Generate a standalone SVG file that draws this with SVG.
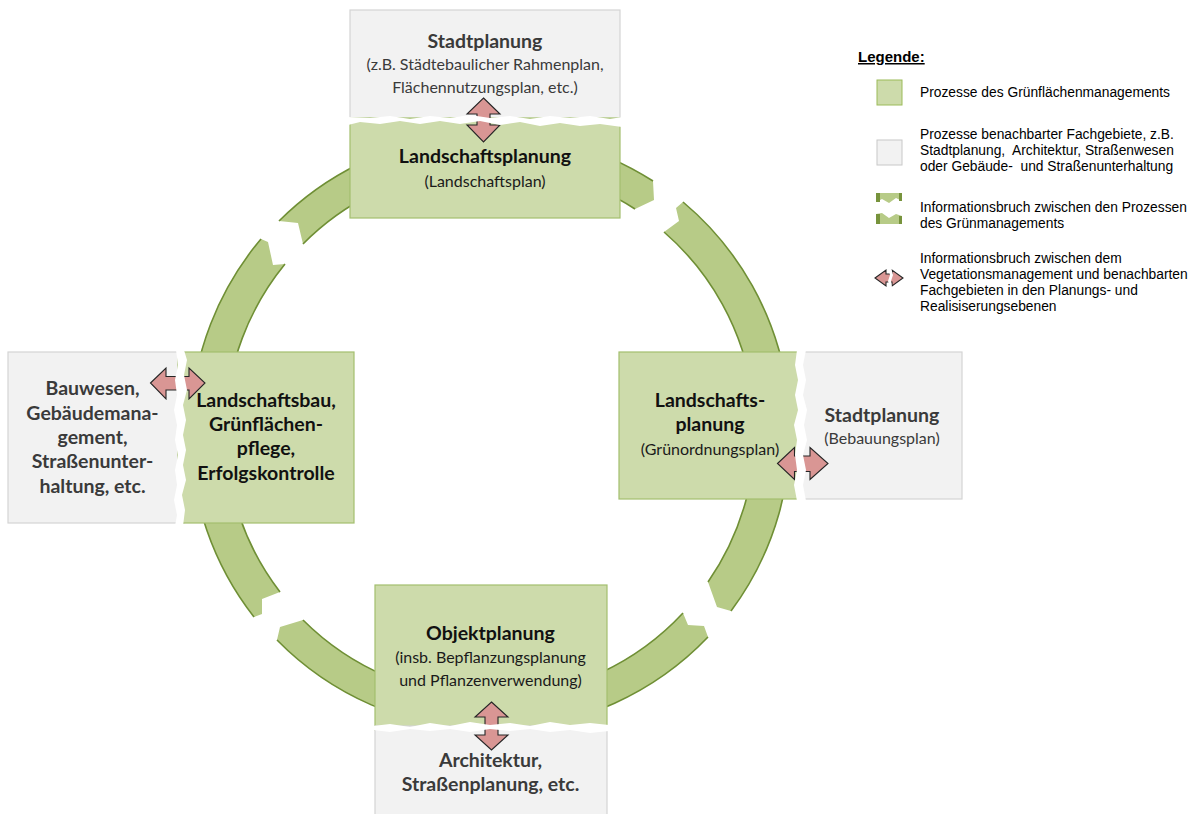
<svg xmlns="http://www.w3.org/2000/svg" width="1193" height="814" viewBox="0 0 1193 814">
<defs>
<style>
.ring{fill:#b7cb87;stroke:none}
.ringedge{fill:none;stroke:#6f8f35;stroke-width:1.6}
.gbox{fill:#cddbab;stroke:#a3bf6e;stroke-width:1.2}
.pbox{fill:#f2f2f2;stroke:#d4d4d4;stroke-width:1.2}
.arrow{fill:#d99694;stroke:#262626;stroke-width:1.1;stroke-linejoin:miter}
.tear{fill:#ffffff;stroke:none}
.hb{font-family:Lato,"Open Sans",sans-serif;font-weight:bold;font-size:19.5px;text-anchor:middle;fill:#111111}
.hg{font-family:Lato,"Open Sans",sans-serif;font-weight:bold;font-size:19.5px;text-anchor:middle;fill:#3a3a3a}
.sb{font-family:Lato,"Open Sans",sans-serif;font-size:16px;text-anchor:middle;fill:#1a1a1a}
.sg{font-family:Lato,"Open Sans",sans-serif;font-size:16px;text-anchor:middle;fill:#3a3a3a}
.lg{font-family:"Liberation Sans",Arial,sans-serif;font-size:13.8px;fill:#000000}
.lgh{font-family:"Liberation Sans",Arial,sans-serif;font-size:15px;font-weight:bold;fill:#000000;text-decoration:underline}
</style>
</defs>
<rect x="0" y="0" width="1193" height="814" fill="#ffffff"/>

<g id="cycle">
<path class="ring" d="M279,221 A300,300 0 0 1 653,181 L654,200 L635,209 A264,264 0 0 0 303,244 L298,223 Z"/>
<path class="ring" d="M683,202 A300,300 0 0 1 731,611 L717,607 L708,582 A264,264 0 0 0 664,232 L679,221 L676,208 Z"/>
<path class="ring" d="M708,637 A300,300 0 0 1 277,640 L280,627 L303,620 A264,264 0 0 0 683,613 L688,625 L704,626 Z"/>
<path class="ring" d="M254,617 A300,300 0 0 1 261,239 L268,242 L273,265 L285,264 A264,264 0 0 0 280,592 L262,599 L262,614 Z"/>
<path class="ringedge" d="M279,221 A300,300 0 0 1 653,181 M635,209 A264,264 0 0 0 303,244"/>
<path class="ringedge" d="M683,202 A300,300 0 0 1 731,611 M708,582 A264,264 0 0 0 664,232"/>
<path class="ringedge" d="M708,637 A300,300 0 0 1 277,640 M303,620 A264,264 0 0 0 683,613"/>
<path class="ringedge" d="M254,617 A300,300 0 0 1 261,239 M285,264 A264,264 0 0 0 280,592"/>
</g>

<g id="node-stadtplanung-top">
<rect class="pbox" x="350" y="10" width="270" height="112"/>
<text class="hg" x="485" y="48">Stadtplanung</text>
<text class="sg" x="485" y="70">(z.B. Städtebaulicher Rahmenplan,</text>
<text class="sg" x="485" y="93">Flächennutzungsplan, etc.)</text>
</g>
<g id="node-landschaftsplanung-top">
<rect class="gbox" x="350" y="118" width="270" height="100"/>
<text class="hb" x="485" y="163">Landschaftsplanung</text>
<text class="sb" x="485" y="187">(Landschaftsplan)</text>
</g>

<g id="node-bauwesen">
<rect class="pbox" x="8" y="352" width="176" height="171"/>
<text class="hg" x="92.5" y="395">Bauwesen,</text>
<text class="hg" x="92.5" y="419.5">Gebäudemana-</text>
<text class="hg" x="92.5" y="443.5">gement,</text>
<text class="hg" x="92.5" y="468">Straßenunter-</text>
<text class="hg" x="92.5" y="492.5">haltung, etc.</text>
</g>
<g id="node-landschaftsbau">
<rect class="gbox" x="178" y="352" width="176" height="171"/>
<text class="hb" x="266" y="406.5">Landschaftsbau,</text>
<text class="hb" x="266" y="431">Grünflächen-</text>
<text class="hb" x="266" y="455">pflege,</text>
<text class="hb" x="266" y="480">Erfolgskontrolle</text>
</g>

<g id="node-landschaftsplanung-right">
<rect class="gbox" x="619" y="352" width="184" height="147"/>
<text class="hb" x="710" y="407">Landschafts-</text>
<text class="hb" x="710" y="431">planung</text>
<text class="sb" x="710" y="455">(Grünordnungsplan)</text>
</g>
<g id="node-stadtplanung-right">
<rect class="pbox" x="799" y="352" width="163" height="147"/>
<text class="hg" x="882" y="421.5">Stadtplanung</text>
<text class="sg" x="882" y="444">(Bebauungsplan)</text>
</g>

<g id="node-objektplanung">
<rect class="gbox" x="375" y="585" width="232" height="145"/>
<text class="hb" x="490.5" y="640">Objektplanung</text>
<text class="sb" x="490.5" y="663">(insb. Bepflanzungsplanung</text>
<text class="sb" x="490.5" y="686">und Pflanzenverwendung)</text>
</g>
<g id="node-architektur">
<rect class="pbox" x="375" y="726" width="232" height="95"/>
<text class="hg" x="490.5" y="767">Architektur,</text>
<text class="hg" x="490.5" y="791">Straßenplanung, etc.</text>
</g>

<g id="connectors">
<polygon class="arrow" points="483.5,98 500,114 490,114 490,125 500,125 483.5,142 467,125 477,125 477,114 467,114"/>
<polygon class="arrow" points="150.5,383 166,368 166,376.5 189,376.5 189,368 205,383 189,399 189,390 166,390 166,399"/>
<polygon class="arrow" points="777.5,463.5 794.5,447.5 794.5,456 810,456 810,447.5 828,463.5 810,479.5 810,471.5 794.5,471.5 794.5,479.5"/>
<polygon class="arrow" points="491.5,702 508,717 498,717 498,735 508,735 491.5,750 475,735 485,735 485,717 475,717"/>
</g>

<g id="tears">
<polygon class="tear" points="348,117 370,118 390,116 410,119 430,116 450,118 470,115 490,118 510,116 530,119 550,116 570,118 590,116 610,119 622,117 622,127 600,124 580,126 560,123 540,126 520,122 500,125 480,121 460,124 440,121 420,124 400,121 380,124 360,122 348,125"/>
<polygon class="tear" points="176,350 178,365 175,380 177,395 174,410 177,425 175,440 178,455 175,470 177,485 174,500 177,515 175,526 183,526 185,510 182,495 186,480 183,465 186,450 183,435 186,420 183,405 187,390 184,375 187,360 184,350"/>
<polygon class="tear" points="797,350 795,365 798,380 795,395 798,410 794,425 797,440 795,455 797,470 794,485 797,501 806,501 803,485 806,470 803,455 807,440 804,425 807,410 803,395 806,380 803,365 806,350"/>
<polygon class="tear" points="373,726 390,724 410,727 430,723 450,726 470,722 490,725 510,723 530,726 550,722 570,725 590,723 609,725 609,731 590,733 570,730 550,732 530,729 510,731 490,729 470,732 450,729 430,731 410,729 390,732 373,730"/>
</g>

<g id="legend">
<text class="lgh" x="858" y="62">Legende:</text>
<rect x="877" y="80" width="25" height="25" fill="#cddbab" stroke="#9bbb59" stroke-width="1"/>
<text class="lg" x="920" y="97">Prozesse des Grünflächenmanagements</text>
<rect x="877" y="140" width="25" height="25" fill="#f2f2f2" stroke="#c8c8c8" stroke-width="1"/>
<text class="lg" x="920" y="139">Prozesse benachbarter Fachgebiete, z.B.</text>
<text class="lg" x="920" y="155" xml:space="preserve">Stadtplanung,  Architektur, Straßenwesen</text>
<text class="lg" x="920" y="171" xml:space="preserve">oder Gebäude-  und Straßenunterhaltung</text>
<polygon points="876,193 902,193 902,201 896,198 889,203 882,199 876,202" fill="#b7cb87"/>
<rect x="876" y="193" width="4" height="9" fill="#77933c"/>
<rect x="899" y="193" width="3" height="8" fill="#77933c"/>
<polygon points="876,214 882,213 889,218 896,214 902,216 902,224 876,224" fill="#b7cb87"/>
<rect x="876" y="214" width="4" height="10" fill="#77933c"/>
<rect x="899" y="216" width="3" height="8" fill="#77933c"/>
<text class="lg" x="920" y="212">Informationsbruch zwischen den Prozessen</text>
<text class="lg" x="920" y="228">des Grünmanagements</text>
<polygon class="arrow" points="875,278 886,270 886,274 892,274 892,270 903,278 892,286 892,282 886,282 886,286"/>
<polygon class="tear" points="888,268 890,275 888,281 890,288 892,288 891,281 893,275 891,268"/>
<text class="lg" x="920" y="263">Informationsbruch zwischen dem</text>
<text class="lg" x="920" y="279">Vegetationsmanagement und benachbarten</text>
<text class="lg" x="920" y="295">Fachgebieten in den Planungs- und</text>
<text class="lg" x="920" y="311">Realisiserungsebenen</text>
</g>
</svg>
